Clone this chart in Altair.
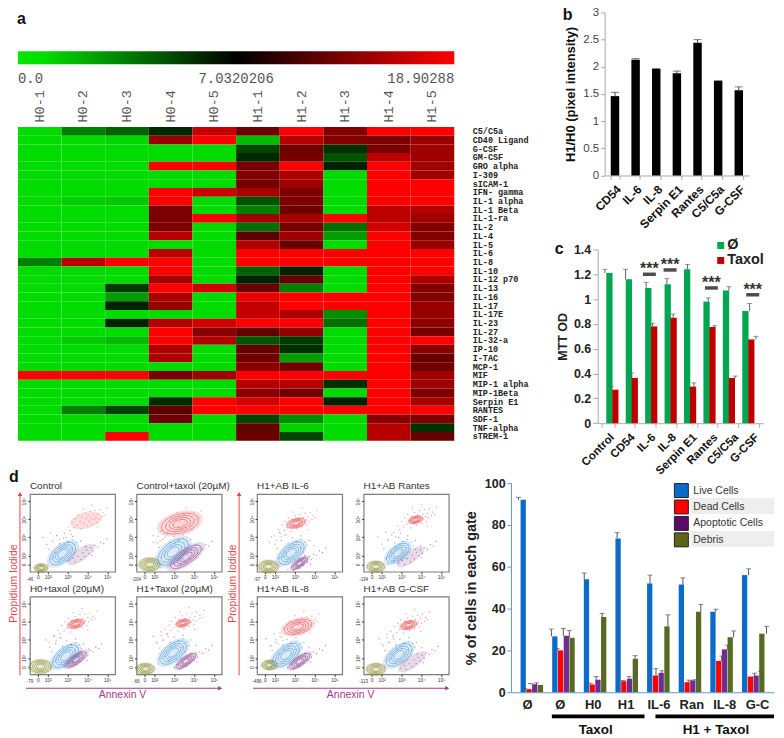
import altair as alt
import pandas as pd

SANS = "Liberation Sans"
MONO = "Liberation Mono"

# ---------- panel a ----------
columns = ["H0-1","H0-2","H0-3","H0-4","H0-5","H1-1","H1-2","H1-3","H1-4","H1-5"]
R = 18.9
heat_rows = [
 ("C5/C5a",      [0,3,4,6.5,15,9,R,10.5,R,R]),
 ("CD40 Ligand", [0,0,0.2,12,R,1,14,10.5,10,12]),
 ("G-CSF",       [0,0,0,0,0,5,9,6,10,12.5]),
 ("GM-CSF",      [0,0,0,0,0,6.5,9.5,4.5,14.5,12.5]),
 ("GRO alpha",   [0,0,0,R,R,9.5,R,7,R,12.5]),
 ("I-309",       [0,0,0,0,0,10.3,13.5,0,R,12.5]),
 ("sICAM-1",     [0,0,0,0,0,9.5,12.5,0,R,R]),
 ("IFN- gamma",  [0,0,0,R,15.5,13,10,0,R,R]),
 ("IL-1 alpha",  [0,0.4,0.6,R,0,4.5,10,0,R,R]),
 ("IL-1 Beta",   [0,0,0,10,0,3,9,0,14.5,14]),
 ("IL-1-ra",     [0,0,0,10,R,12.5,13,R,14.5,12.5]),
 ("IL-2",        [0,0,0,10,0,3.5,9.5,3.5,16,10.5]),
 ("IL-4",        [0,0,0,14,0,7.5,12.5,2,R,10.5]),
 ("IL-5",        [0,0,0,0,0,13.5,8.5,0,R,12]),
 ("IL-6",        [0,0,0,14.5,0,R,R,R,R,R]),
 ("IL-8",        [3,14.5,R,R,0,R,R,R,R,R]),
 ("IL-10",       [0,0,0,R,0,4,7,0,R,R]),
 ("IL-12 p70",   [0,0,0,13,0,7,8,0,R,13.5]),
 ("IL-13",       [0,0,5.5,R,16,8.5,3,0,R,10.5]),
 ("IL-16",       [0,0,2,13.5,0,17.5,R,R,R,10.5]),
 ("IL-17",       [0,0,7,12,0,15,R,R,R,12]),
 ("IL-17E",      [0,0,0,0,0,15,13.5,2.5,R,12]),
 ("IL-23",       [0,0,7,14,16,R,R,3.5,R,11.5]),
 ("IL-27",       [0,0,0,R,11,8,11.5,0,R,9.5]),
 ("IL-32-a",     [0,0.5,1,R,14,4.5,5.5,0,R,R]),
 ("IP-10",       [0,0,0,13.5,0,8,6,0,R,11]),
 ("I-TAC",       [0,0,0,13.5,0,9,2,0,R,8.5]),
 ("MCP-1",       [0,0,0,0,0,11,9,0,R,9]),
 ("MIF",         [R,R,R,10,12.5,R,R,R,R,12.5]),
 ("MIP-1 alpha", [0,0,0,0,0,14,14,6,R,12.5]),
 ("MIP-1Beta",   [0,0,0,0,0,11,9,0,R,10]),
 ("Serpin E1",   [0,0,0,6.5,R,16,R,7,R,13]),
 ("RANTES",      [0,3,5,7.5,R,R,R,R,R,R]),
 ("SDF-1",       [0,0,0,9,0,5,2.5,0,11,10]),
 ("TNF-alpha",   [0,0,0,0,0,8,0.3,0,14,6]),
 ("sTREM-1",     [0,0,R,0,0,8.5,5,0,14,8]),
]
heat_df = pd.DataFrame([{"row": r, "col": c, "v": v}
                        for r, vals in heat_rows for c, v in zip(columns, vals)])
row_order = [r for r, _ in heat_rows]

heat = alt.Chart(heat_df).mark_rect().encode(
    x=alt.X("col:N", sort=columns, title=None,
            scale=alt.Scale(paddingInner=0, paddingOuter=0),
            axis=alt.Axis(orient="top", labelAngle=-90, labelFont=MONO, labelFontSize=13.5,
                          labelColor="#555", ticks=False, domain=False, labelPadding=5)),
    y=alt.Y("row:N", sort=row_order, title=None,
            scale=alt.Scale(paddingInner=0, paddingOuter=0),
            axis=alt.Axis(orient="right", labelFont=MONO, labelFontSize=8.5, labelFontWeight="bold",
                          labelColor="#222", ticks=False, domain=False, labelPadding=18, labelOverlap=False)),
    color=alt.Color("v:Q", legend=None,
                    scale=alt.Scale(domain=[0, 7.0320206, 18.90288], range=["#00dc00", "#000000", "#ff0000"])),
).properties(width=438, height=315)

bar_labels = pd.DataFrame({"t": ["0.0", "7.0320206", "18.90288"]})
one = pd.DataFrame({"t": ["a"]})
gradient = alt.LinearGradient(gradient="linear", x1=0, x2=1, y1=0, y2=0, stops=[
    alt.GradientStop(offset=0, color="#00e800"), alt.GradientStop(offset=0.06, color="#00dc00"),
    alt.GradientStop(offset=0.5, color="#000000"), alt.GradientStop(offset=1, color="#ff0000")])
top_panel = alt.layer(
    alt.Chart(one).mark_rect(color=gradient).encode(x=alt.value(0), x2=alt.value(438), y=alt.value(39), y2=alt.value(52)),
    alt.Chart(one).mark_text(font=SANS, fontWeight="bold", fontSize=16, align="left", baseline="middle", color="#111")
        .encode(text="t:N", x=alt.value(-1), y=alt.value(7)),
    alt.Chart(bar_labels[bar_labels.t == "0.0"]).mark_text(font=MONO, fontSize=14, align="left", color="#555", baseline="middle")
        .encode(text="t:N", x=alt.value(0), y=alt.value(67)),
    alt.Chart(bar_labels[bar_labels.t == "7.0320206"]).mark_text(font=MONO, fontSize=14, align="center", color="#555", baseline="middle")
        .encode(text="t:N", x=alt.value(219), y=alt.value(67)),
    alt.Chart(bar_labels[bar_labels.t == "18.90288"]).mark_text(font=MONO, fontSize=14, align="right", color="#555", baseline="middle")
        .encode(text="t:N", x=alt.value(438), y=alt.value(67)),
).properties(width=438, height=115)

panel_a = alt.vconcat(top_panel, heat, spacing=0, bounds="flush")

# ---------- panel b ----------
b_cats = ["CD54", "IL-6", "IL-8", "Serpin E1", "Rantes", "C5/C5a", "G-CSF"]
b_vals = [1.46, 2.13, 1.96, 1.88, 2.44, 1.74, 1.57]
b_errs = [0.07, 0.02, 0.01, 0.04, 0.06, 0.005, 0.06]
b_df = pd.DataFrame({"cat": b_cats, "v": b_vals, "hi": [v + e for v, e in zip(b_vals, b_errs)]})
b_title = "H1/H0 (pixel intensity)"
b_scale = alt.Scale(domain=[0, 3], nice=False)
bx = alt.X("cat:N", sort=b_cats, title=None,
           scale=alt.Scale(range=[7, 152], paddingInner=0.59, paddingOuter=0.295),
           axis=alt.Axis(labelAngle=-45, labelFont=SANS, labelFontSize=12, labelFontWeight="bold", labelColor="#111",
                         tickBand="extent", tickColor="#aaa", domainColor="#aaa", tickSize=4, labelPadding=4))
b_axis = alt.Axis(values=[0, .5, 1, 1.5, 2, 2.5, 3], format="~g", offset=-7, grid=False, labelOverlap=False,
                  labelFont=SANS, labelFontSize=11.5, labelColor="#444",
                  titleFont=SANS, titleFontSize=13, titleFontWeight="bold", titleColor="#111",
                  tickColor="#aaa", domainColor="#aaa", tickSize=4, titlePadding=5)
def by(field):
    return alt.Y(field, title=b_title, scale=b_scale, axis=b_axis)
panel_b = alt.layer(
    alt.Chart(b_df).mark_bar(color="#000000").encode(x=bx, y=by("v:Q")),
    alt.Chart(b_df).mark_rule(color="#444").encode(x=bx, y=by("v:Q"), y2="hi:Q"),
    alt.Chart(b_df).mark_tick(color="#444", size=8, thickness=1).encode(x=bx, y=by("hi:Q")),
    alt.Chart(pd.DataFrame({"t": ["b"]})).mark_text(font=SANS, fontWeight="bold", fontSize=16, align="left", baseline="middle", color="#111")
        .encode(text="t:N", x=alt.value(-35), y=alt.value(3)),
).properties(width=152, height=163.7)

# ---------- panel c ----------
c_cats = ["Control", "CD54", "IL-6", "IL-8", "Serpin E1", "Rantes", "C5/C5a", "G-CSF"]
c_none = [1.21, 1.16, 1.09, 1.12, 1.24, 0.98, 1.07, 0.905]
c_none_err = [0.03, 0.08, 0.045, 0.045, 0.04, 0.03, 0.03, 0.06]
c_taxol = [0.27, 0.365, 0.78, 0.85, 0.295, 0.775, 0.365, 0.675]
c_taxol_err = [0.025, 0.04, 0.025, 0.03, 0.03, 0.01, 0.015, 0.025]
c_names = ["Ø", "Taxol"]
c_colors = ["#00a651", "#c00000"]
c_bar_w = 6.3
c_step = 20.75
c_df = pd.DataFrame(
    [{"pos": i + 0.5 - c_bar_w / 2 / c_step, "series": "Ø", "v": v, "hi": v + e}
     for i, (v, e) in enumerate(zip(c_none, c_none_err))] +
    [{"pos": i + 0.5 + c_bar_w / 2 / c_step, "series": "Taxol", "v": v, "hi": v + e}
     for i, (v, e) in enumerate(zip(c_taxol, c_taxol_err))])
sig_cats = ["IL-6", "IL-8", "Rantes", "G-CSF"]
sig_bar = [1.2, 1.235, 1.09, 1.035]
sig_star = [1.268, 1.30, 1.155, 1.10]
sig_df = pd.DataFrame({"cat": sig_cats, "bar": sig_bar, "star": sig_star, "t": ["***"] * 4})
c_axis_df = pd.DataFrame({"cat": c_cats, "v": [0] * len(c_cats)})
c_band = alt.Scale(domain=c_cats, paddingInner=0.39, paddingOuter=0.195)
cx = alt.X("cat:N", sort=c_cats, title=None, scale=c_band,
           axis=alt.Axis(labelAngle=-45, labelFont=SANS, labelFontSize=11.5, labelFontWeight="bold", labelColor="#111",
                         tickBand="extent", tickColor="#aaa", domainColor="#aaa", tickSize=4, labelPadding=4))
cx_na = alt.X("cat:N", sort=c_cats, title=None, scale=c_band, axis=None)
cpos = alt.X("pos:Q", title=None, scale=alt.Scale(domain=[0, 8], nice=False, zero=False), axis=None)
c_axis = alt.Axis(values=[0, .2, .4, .6, .8, 1, 1.2, 1.4], format="~g", grid=False, labelOverlap=False,
                  labelFont=SANS, labelFontSize=12.5, labelFontWeight="bold", labelColor="#222",
                  titleFont=SANS, titleFontSize=12.5, titleFontWeight="bold", titleColor="#222",
                  tickColor="#aaa", domainColor="#aaa", tickSize=5, titlePadding=4)
c_scale = alt.Scale(domain=[0, 1.4], nice=False)
def cy(field):
    return alt.Y(field, title="MTT OD", scale=c_scale, axis=c_axis)
leg = pd.DataFrame({"t": [0]})
panel_c = alt.layer(
    alt.Chart(c_axis_df).mark_tick(opacity=0).encode(x=cx, y=cy("v:Q")),
    alt.Chart(c_df).mark_bar(size=c_bar_w).encode(
        x=cpos, y=cy("v:Q"),
        color=alt.Color("series:N", sort=c_names, legend=None, scale=alt.Scale(domain=c_names, range=c_colors))),
    alt.Chart(c_df).mark_rule(color="#666").encode(x=cpos, y=cy("v:Q"), y2="hi:Q"),
    alt.Chart(c_df).mark_tick(color="#666", size=5, thickness=1, orient="horizontal").encode(x=cpos, y=cy("hi:Q")),
    alt.Chart(sig_df).mark_tick(color="#000", size=13, thickness=3.5).encode(x=cx_na, y=cy("bar:Q")),
    alt.Chart(sig_df).mark_text(font=SANS, fontSize=16, color="#333", dy=3, fontWeight="bold").encode(
        x=cx_na, y=cy("star:Q"), text="t:N"),
    alt.Chart(pd.DataFrame({"t": ["c"]})).mark_text(font=SANS, fontWeight="bold", fontSize=16, align="left", baseline="middle", color="#111")
        .encode(text="t:N", x=alt.value(-43), y=alt.value(0)),
    alt.Chart(leg).mark_rect(color=c_colors[0]).encode(x=alt.value(120), x2=alt.value(127), y=alt.value(-7.5), y2=alt.value(-0.5)),
    alt.Chart(leg).mark_rect(color=c_colors[1]).encode(x=alt.value(120), x2=alt.value(127), y=alt.value(7.5), y2=alt.value(14.5)),
    alt.Chart(pd.DataFrame({"t": ["Ø"]})).mark_text(font=SANS, fontSize=14.5, fontWeight="bold", align="left", baseline="middle", color="#222")
        .encode(text="t:N", x=alt.value(130), y=alt.value(-4)),
    alt.Chart(pd.DataFrame({"t": ["Taxol"]})).mark_text(font=SANS, fontSize=14.5, fontWeight="bold", align="left", baseline="middle", color="#222")
        .encode(text="t:N", x=alt.value(130), y=alt.value(11)),
).resolve_scale(x="independent").properties(width=166, height=174.4)

right_col = alt.vconcat(panel_b, panel_c, spacing=74, bounds="flush")
row1 = alt.hconcat(panel_a, right_col, spacing=26)

# ---------- panel d, flow plots ----------
ELL_BLUE = "M -0.79 0.61 A 1 0.5 -38 1 1 0.79 -0.61 A 1 0.5 -38 1 1 -0.79 0.61 Z"
ELL_PURP = "M -0.82 0.57 A 1 0.36 -35 1 1 0.82 -0.57 A 1 0.36 -35 1 1 -0.82 0.57 Z"
ELL_RED  = "M -0.97 0.26 A 1 0.5 -15 1 1 0.97 -0.26 A 1 0.5 -15 1 1 -0.97 0.26 Z"
ELL_OLIV = "M -1 0 A 1 0.62 0 1 1 1 0 A 1 0.62 0 1 1 -1 0 Z"
ring_scale = [1.0, 0.78, 0.58, 0.4]

flow_titles = ["Control", "Control+taxol (20µM)", "H0+taxol (20µM)", "H1+Taxol (20µM)",
               "H1+AB IL-6", "H1+AB Rantes", "H1+AB IL-8", "H1+AB G-CSF"]
low_x = ["-46", "-204", "-79", "-66", "-97", "-134", "-496", "-113"]
olive_c  = [(1.66,1.31,13),(1.77,1.5,20),(1.64,1.53,21),(1.55,1.4,17),(1.68,1.38,19),(1.72,1.38,17),(1.73,1.61,15),(1.72,1.38,18)]
blue_c   = [(2.75,2.1,30),(2.94,2.19,35),(2.9,2.1,30),(2.94,2.3,31),(2.82,2.13,30),(2.82,2.13,26),(2.56,2.17,31),(2.88,2.17,30)]
purple_c = [(3.67,2.05,0),(3.59,1.92,36),(3.42,1.92,24),(3.59,1.83,23),(3.25,1.57,19),(3.46,1.92,0),(3.25,1.83,24),(3.55,1.79,0)]
red_c    = [(3.93,3.93,0),(3.29,3.76,38),(3.42,3.89,16),(3.44,3.93,14),(3.07,3.78,18),(3.72,3.97,14),(3.16,3.72,28),(3.37,3.82,16)]
red_dots = [(-1.1,-0.7),(-0.9,-0.35),(-0.8,-0.55),(-0.7,-0.1),(-0.6,-0.4),(-0.55,0.1),(-0.45,-0.25),(-0.4,0.3),
            (-0.3,-0.05),(-0.25,-0.45),(-0.2,0.2),(-0.1,-0.15),(-0.05,0.4),(0,0.1),(0.05,-0.3),(0.1,0.25),(0.15,-0.05),
            (0.2,0.5),(0.25,0.12),(0.3,-0.2),(0.35,0.3),(0.4,0.05),(0.45,0.55),(0.5,0.18),(0.55,-0.1),(0.6,0.35),
            (0.65,0.1),(0.7,0.6),(0.8,0.22),(0.85,0.42),(0.95,0.3),(1.05,0.7),(-1.35,-1.05),(-1.0,-0.95),(-0.75,-0.75),
            (0.3,0.85),(-0.15,0.62),(0.6,-0.35)]
blue_dots = [(-0.75,-0.62),(-0.6,-0.3),(-0.5,-0.6),(-0.35,0.05),(-0.2,-0.45),(0.1,0.5),(0.3,0.65),(0.45,0.3),(0.55,0.5),
             (0.65,0.25),(0.7,0.62),(0.4,-0.3),(0.6,0.05),(0.2,-0.38),(-0.1,0.32),(0.8,0.4),(0.5,0.75),(-0.45,-0.2)]
purple_dots = [(-0.6,-0.35),(-0.4,-0.2),(-0.3,-0.42),(-0.15,-0.1),(0,-0.28),(0.1,0.1),(0.2,-0.1),(0.3,0.25),(0.4,0.05),
               (0.5,0.38),(0.6,0.2),(0.7,0.5),(0.85,0.42),(1.0,0.68),(1.15,0.6),(0.25,0.42),(0.55,-0.05),(1.3,0.85)]
grey_dots = [(-1.0,0.9),(-0.8,0.5),(-0.6,1.15),(-0.5,0.7),(-0.3,1.0),(-0.15,0.55),(0.05,0.85),(0.25,0.65),(-0.7,0.25),
             (0.5,0.95),(0.9,0.7),(1.15,0.4)]
POP = {"olive": (ELL_OLIV, "#8a8a30"), "blue": (ELL_BLUE, "#4f9ad6"),
       "purple": (ELL_PURP, "#8c4a92"), "red": (ELL_RED, "#e9575a")}

x_ticks = [1.5, 2, 3, 4, 5]
y_ticks = [1.5, 2, 3, 4, 5]
pow_expr = "datum.value==1.5?'0':datum.value==2?'10²':datum.value==3?'10³':datum.value==4?'10⁴':'10⁵'"

def flow_panel(i, extras=()):
    cells, rings, dots = [], [], []
    for name, c in (("olive", olive_c[i]), ("blue", blue_c[i]), ("purple", purple_c[i]), ("red", red_c[i])):
        path, col = POP[name]
        base = c[2] if c[2] else 26
        cells.append({"x": c[0], "y": c[1], "size": (base * 1.25) ** 2, "shape": path, "color": col})
        if c[2]:
            for s in ring_scale:
                rings.append({"x": c[0], "y": c[1], "size": (c[2] * s) ** 2, "shape": path, "color": col})
    for offsets, center, col in ((red_dots, red_c[i], "#ea6a6c"), (blue_dots, blue_c[i], "#5aa2da"),
                                 (purple_dots, purple_c[i], "#8f4c96"), (grey_dots, blue_c[i], "#777777")):
        for dx_, dy_ in offsets:
            dots.append({"x": center[0] + dx_, "y": center[1] + dy_, "color": col})
    X = alt.X("x:Q", title=None, scale=alt.Scale(domain=[1.1, 5.39], nice=False, zero=False),
              axis=alt.Axis(values=x_ticks, grid=False, domain=False, tickSize=2, tickColor="#333", labelFontSize=5,
                            labelColor="#333", labelPadding=1, labelFont=SANS, labelOverlap=False, labelExpr=pow_expr))
    Y = alt.Y("y:Q", title=None, scale=alt.Scale(domain=[1.1, 5.39], nice=False, zero=False),
              axis=alt.Axis(values=y_ticks, grid=False, domain=False, tickSize=2, tickColor="#333", labelFontSize=5,
                            labelColor="#333", labelPadding=1, labelAngle=-90, labelAlign="center", labelBaseline="bottom",
                            labelFont=SANS, labelExpr=pow_expr, labelOverlap=False))
    S = alt.Size("size:Q", scale=None)
    H = alt.Shape("shape:N", scale=None)
    C = alt.Color("color:N", scale=None)
    layers = [
        alt.Chart(pd.DataFrame(cells)).mark_point(filled=True, opacity=0.2).encode(x=X, y=Y, size=S, shape=H, color=C),
        alt.Chart(pd.DataFrame(rings)).mark_point(filled=False, strokeWidth=0.7, opacity=0.9).encode(x=X, y=Y, size=S, shape=H, color=C),
        alt.Chart(pd.DataFrame(dots)).mark_circle(size=1.6, opacity=0.75).encode(x=X, y=Y, color=C),
        alt.Chart(pd.DataFrame({"t": [flow_titles[i]]})).mark_text(font=SANS, fontSize=10, align="left", baseline="middle", color="#333")
            .encode(text="t:N", x=alt.value(0), y=alt.value(-8)),
        alt.Chart(pd.DataFrame({"t": [low_x[i]]})).mark_text(font=SANS, fontSize=4.5, align="center", baseline="middle", color="#333")
            .encode(text="t:N", x=alt.value(0), y=alt.value(86)),
    ]
    layers.extend(extras)
    return alt.layer(*layers).properties(width=85.5, height=78, view=alt.ViewConfig(stroke="#7d7d7d", strokeWidth=1.2))

def label(text, x, y, color, size=10.5, angle=0, weight="normal", align="center"):
    return alt.Chart(pd.DataFrame({"t": [text]})).mark_text(font=SANS, fontSize=size, color=color, angle=angle,
                                                            fontWeight=weight, baseline="middle", align=align).encode(
        text="t:N", x=alt.value(x), y=alt.value(y))

def arrow_v(x, y1, y2, color):
    return [alt.Chart(pd.DataFrame({"t": [0]})).mark_rule(color=color, strokeWidth=1).encode(
                x=alt.value(x), y=alt.value(y1), y2=alt.value(y2)),
            alt.Chart(pd.DataFrame({"t": [0]})).mark_point(shape="triangle-up", filled=True, size=22, color=color, opacity=1).encode(
                x=alt.value(x), y=alt.value(y1))]

def arrow_h(x1, x2, y, color):
    return [alt.Chart(pd.DataFrame({"t": [0]})).mark_rule(color=color, strokeWidth=1.2).encode(
                x=alt.value(x1), x2=alt.value(x2), y=alt.value(y)),
            alt.Chart(pd.DataFrame({"t": [0]})).mark_point(shape="triangle-right", filled=True, size=22, color=color, opacity=1).encode(
                x=alt.value(x2), y=alt.value(y))]

RED_T = "#e8434a"
PUR_T = "#a23a86"
p1 = flow_panel(0, [label("Propidium Iodide", -16, 90, RED_T, angle=270), *arrow_v(-10, 0, 182, RED_T),
                    label("d", -16, -17, "#111", size=16, weight="bold")])
p2 = flow_panel(1)
p3 = flow_panel(2, [*arrow_h(-4, 191, 92, PUR_T), label("Annexin V", 93, 99, PUR_T)])
p4 = flow_panel(3)
p5 = flow_panel(4, [label("Propidium Iodide", -24, 90, RED_T, angle=270), *arrow_v(-18, 0, 182, RED_T)])
p6 = flow_panel(5)
p7 = flow_panel(6, [*arrow_h(-4, 191, 92, PUR_T), label("Annexin V", 94, 99, PUR_T)])
p8 = flow_panel(7)

FLOW_SP = {"row": 25, "column": 21}
flow_left = alt.concat(p1, p2, p3, p4, columns=2, spacing=FLOW_SP, bounds="flush")
flow_right = alt.concat(p5, p6, p7, p8, columns=2, spacing=FLOW_SP, bounds="flush")
flow_row = alt.hconcat(flow_left, flow_right, spacing=-4)
def spacer(w, h):
    return alt.Chart(pd.DataFrame({"t": [0]})).mark_point(opacity=0).encode(x=alt.value(0), y=alt.value(0)).properties(width=w, height=h)
flow_block = alt.vconcat(spacer(1, 11), flow_row, spacing=0, bounds="flush")
flow_shift = alt.hconcat(spacer(12, 1), flow_block, spacing=0, bounds="flush")

# ---------- panel d, bars ----------
d_cats = ["Ø", "Ø ", "H0", "H1", "IL-6", "Ran", "IL-8", "G-C"]
d_series = ["Live Cells", "Dead Cells", "Apoptotic Cells", "Debris"]
d_colors = ["#0a6cc8", "#ff0000", "#6f2c91", "#566a22"]
d_swatch = ["#0a6cc8", "#ff0000", "#5a0a6a", "#5f6518"]
d_vals = {
    "Live Cells":      [92, 26.7, 54, 73.5, 52, 51.5, 38.5, 56],
    "Dead Cells":      [1.5, 20, 3.7, 5.3, 8, 4.8, 15, 7.5],
    "Apoptotic Cells": [3.8, 27, 6, 6.5, 9.3, 5.7, 20.5, 8],
    "Debris":          [3.5, 26, 36, 16, 31.5, 38.5, 26.3, 28],
}
d_errs = {
    "Live Cells":      [1.2, 3.5, 3, 2.8, 4, 3.2, 1.2, 3],
    "Dead Cells":      [0.3, 0.8, 0.6, 0.3, 3.3, 1, 2.3, 1.6],
    "Apoptotic Cells": [0.4, 3.5, 1.5, 1, 1, 0.3, 2, 2],
    "Debris":          [1, 3.5, 1.7, 1.5, 5.5, 3.5, 3, 3.5],
}
d_step = 33.0
d_bar_step = 6.0
d_df = pd.DataFrame([{"pos": i + 0.5 + (k - 1.5) * d_bar_step / d_step, "series": s, "v": v, "hi": v + e}
                     for k, s in enumerate(d_series)
                     for i, (v, e) in enumerate(zip(d_vals[s], d_errs[s]))])
d_axis_df = pd.DataFrame({"cat": d_cats, "v": [0] * len(d_cats)})
AXB = "#5b9bd5"
dx = alt.X("cat:N", sort=d_cats, title=None, scale=alt.Scale(domain=d_cats, paddingInner=0.28, paddingOuter=0.14),
           axis=alt.Axis(labelAngle=0, labelFont=SANS, labelFontSize=13, labelFontWeight="bold", labelColor="#222",
                         ticks=False, domainColor=AXB, labelPadding=6))
dpos = alt.X("pos:Q", title=None, scale=alt.Scale(domain=[0, 8], nice=False, zero=False), axis=None)
d_axis = alt.Axis(values=[0, 20, 40, 60, 80, 100], grid=False, labelFont=SANS, labelFontSize=12.5,
                  labelFontWeight="bold", labelColor="#222", titleFont=SANS, titleFontSize=14.5, labelOverlap=False,
                  titleFontWeight="bold", titleColor="#222", tickColor=AXB, domainColor=AXB, tickSize=4, titlePadding=6)
d_scale = alt.Scale(domain=[0, 100], nice=False)
def dy(field):
    return alt.Y(field, title="% of cells in each gate", scale=d_scale, axis=d_axis)
stripes = pd.DataFrame({"t": [0]})
def tx(text, x, y):
    return label(text, x, y, "#111", size=13.5, weight="bold")
legend_layers = []
for k, (name, col) in enumerate(zip(d_series, d_swatch)):
    top = [0.5, 17, 33.5, 50][k]
    legend_layers.append(alt.Chart(stripes).mark_rect(color=col, stroke="#222", strokeWidth=1).encode(
        x=alt.value(164), x2=alt.value(178), y=alt.value(top), y2=alt.value(top + 14)))
    legend_layers.append(label(name, 183, top + 7, "#333", size=10.5, align="left"))
panel_d = alt.layer(
    alt.Chart(d_axis_df).mark_tick(opacity=0).encode(x=dx, y=dy("v:Q")),
    alt.Chart(stripes).mark_rect(color="#eeeeee").encode(x=alt.value(180), x2=alt.value(264), y=alt.value(15), y2=alt.value(31)),
    alt.Chart(stripes).mark_rect(color="#eeeeee").encode(x=alt.value(180), x2=alt.value(264), y=alt.value(48), y2=alt.value(64)),
    alt.Chart(d_df).mark_bar(size=5.3).encode(
        x=dpos, y=dy("v:Q"),
        color=alt.Color("series:N", sort=d_series, legend=None, scale=alt.Scale(domain=d_series, range=d_colors))),
    alt.Chart(d_df).mark_rule(color="#555").encode(x=dpos, y=dy("v:Q"), y2="hi:Q"),
    alt.Chart(d_df).mark_tick(color="#555", size=5, thickness=1, orient="horizontal").encode(x=dpos, y=dy("hi:Q")),
    alt.Chart(stripes).mark_rule(color="#bbbbbb", strokeWidth=1.5).encode(x=alt.value(41), x2=alt.value(134), y=alt.value(236)),
    alt.Chart(stripes).mark_rule(color="#000000", strokeWidth=3.5).encode(x=alt.value(41), x2=alt.value(134), y=alt.value(234)),
    alt.Chart(stripes).mark_rule(color="#bbbbbb", strokeWidth=1.5).encode(x=alt.value(145), x2=alt.value(264), y=alt.value(236)),
    alt.Chart(stripes).mark_rule(color="#000000", strokeWidth=3.5).encode(x=alt.value(145), x2=alt.value(264), y=alt.value(234)),
    tx("Taxol", 85, 248), tx("H1 + Taxol", 205.7, 248),
    *legend_layers,
).resolve_scale(x="independent").properties(width=264, height=210)

row2 = alt.hconcat(flow_shift, panel_d, spacing=13)

chart = alt.vconcat(row1, row2, spacing=-9.5).properties(
    padding={"left": 0, "top": -3, "right": 0, "bottom": 0}).configure_view(stroke=None)
chart.save("out.html", embed_options={"renderer": "svg", "actions": False})
